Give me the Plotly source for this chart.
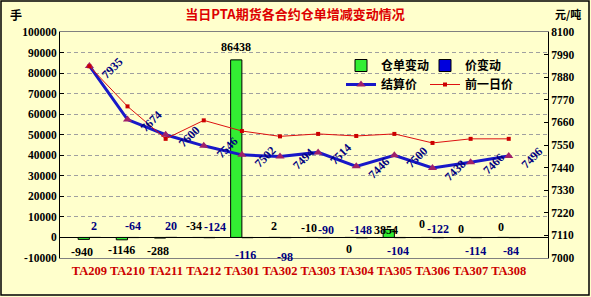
import plotly.graph_objects as go

# ---------------- data ----------------
contracts = ["TA209", "TA210", "TA211", "TA212", "TA301", "TA302",
             "TA303", "TA304", "TA305", "TA306", "TA307", "TA308"]
warrant_change = [-940, -1146, -288, -34, 86438, 2, -10, 0, 3854, 0, 0, 0]
price_change = [2, -64, 20, -124, -116, -98, -90, -148, -104, -122, -114, -84]
settle_price = [7935, 7674, 7600, 7546, 7502, 7494, 7514, 7446, 7500, 7438, 7466, 7496]
prev_price = [7933, 7738, 7580, 7670, 7618, 7592, 7604, 7594, 7604, 7560, 7580, 7580]

left_ticks = list(range(-10000, 100001, 10000))
right_ticks = list(range(7000, 8101, 110))

# label placement (pixels; dy positive = downward)
warrant_label_dx = [-7, -6, -8, -10, -6, -6, -9, -7, -8, -10, -10, -8]
warrant_label_dy = [14.5, 12.5, 13.5, -11, -12.6, -11.5, -9, 11.5, 0.5, -13, -8.5, -10]
price_label_dx = [5, 5, 5, 11, 4, 5, 8, 5, 4, 6, 5, 2]
price_label_dy = [-11.5, -11.5, -11.5, -10, 18, 19.5, -7.5, -7, 13.5, -8.5, 13.5, 13.5]

# ---------------- geometry / styles ----------------
W, H = 591, 297
ML, MR, MT, MB = 60, 43, 32, 39
PW, PH = W - ML - MR, H - MT - MB
BG = "#FFFFCC"
NUM_FONT = "Liberation Serif"
CJK_FONT = "Noto Sans CJK SC"


def px_to_paper(x, y):
    return (x - ML) / PW, (H - MB - y) / PH


fig = go.Figure()

fig.add_trace(go.Bar(
    x=contracts, y=warrant_change, name="仓单变动",
    marker=dict(color="#33EE33", line=dict(color="#000000", width=1)),
    yaxis="y", legend="legend"))
fig.add_trace(go.Bar(
    x=contracts, y=price_change, name="价变动",
    marker=dict(color="#0000DD", line=dict(color="#000000", width=1)),
    yaxis="y", legend="legend2"))
fig.add_trace(go.Scatter(
    x=contracts, y=settle_price, name="结算价", mode="lines+markers",
    line=dict(color="#1818C8", width=3),
    marker=dict(symbol="triangle-up", size=8, color="#A0206A"),
    yaxis="y2", legend="legend"))
fig.add_trace(go.Scatter(
    x=contracts, y=prev_price, name="前一日价", mode="lines+markers",
    line=dict(color="#DD1111", width=1),
    marker=dict(symbol="square", size=4, color="#CC0000"),
    yaxis="y2", legend="legend2"))

annotations = []
# warrant change labels (black)
for c, v, dx, dy in zip(contracts, warrant_change, warrant_label_dx, warrant_label_dy):
    annotations.append(dict(
        x=c, y=max(v, 0), xref="x", yref="y", text=str(v), showarrow=False,
        xanchor="center", yanchor="middle", xshift=dx, yshift=-dy,
        font=dict(family=NUM_FONT, size=12, color="#000000", weight="bold")))
# price change labels (navy)
for c, v, dx, dy in zip(contracts, price_change, price_label_dx, price_label_dy):
    annotations.append(dict(
        x=c, y=0, xref="x", yref="y", text=str(v), showarrow=False,
        xanchor="center", yanchor="middle", xshift=dx, yshift=-dy,
        font=dict(family=NUM_FONT, size=12, color="#000080", weight="bold")))
# settlement price labels (rotated)
for c, v in zip(contracts, settle_price):
    annotations.append(dict(
        x=c, y=v, xref="x", yref="y2", text=str(v), showarrow=False,
        xanchor="center", yanchor="middle", xshift=23, yshift=-2, textangle=-45,
        font=dict(family=NUM_FONT, size=12, color="#000080", weight="bold")))

# unit labels
ux, uy = px_to_paper(16, 14)
annotations.append(dict(x=ux, y=uy, xref="paper", yref="paper", text="手", showarrow=False,
                        xanchor="center", yanchor="middle",
                        font=dict(family=CJK_FONT, size=12, color="#000000", weight="bold")))
ux, uy = px_to_paper(568, 14)
annotations.append(dict(x=ux, y=uy, xref="paper", yref="paper", text="元/吨", showarrow=False,
                        xanchor="center", yanchor="middle",
                        font=dict(family=CJK_FONT, size=11, color="#000000", weight="bold")))

bx0, by0 = px_to_paper(1, 1)
bx1, by1 = px_to_paper(589, 295)

lx1, ly = px_to_paper(341, 51)
lx2, _ = px_to_paper(425, 51)
legend_font = dict(family=CJK_FONT, size=12, color="#000000", weight="bold")

fig.update_layout(
    width=W, height=H,
    margin=dict(l=ML, r=MR, t=MT, b=MB),
    paper_bgcolor=BG, plot_bgcolor=BG,
    barmode="group", bargap=0.41, bargroupgap=0,
    title=dict(text="当日PTA期货各合约仓单增减变动情况", x=295 / W, xanchor="center",
               y=1 - 14 / H, yanchor="middle", yref="container",
               font=dict(family=CJK_FONT, size=13, color="#DD0000", weight="bold")),
    xaxis=dict(type="category", showline=True, mirror=True, linecolor="#808080", linewidth=1,
               ticks="", ticklabelstandoff=1,
               tickfont=dict(family=NUM_FONT, size=12.5, color="#CC0000", weight="bold")),
    yaxis=dict(range=[-10000, 100000], tickvals=left_ticks, ticktext=[str(t) for t in left_ticks],
               showline=True, linecolor="#000000", linewidth=1,
               ticks="inside", ticklen=4, tickcolor="#000000",
               showgrid=True, gridcolor="#A0A0A0", griddash="4px,3px", gridwidth=1,
               zeroline=True, zerolinecolor="#000000", zerolinewidth=1,
               tickfont=dict(family=NUM_FONT, size=11.5, color="#000000", weight="bold")),
    yaxis2=dict(range=[7000, 8100], tickvals=right_ticks, ticktext=[str(t) for t in right_ticks],
                overlaying="y", side="right", showgrid=False, zeroline=False,
                showline=True, linecolor="#000000", linewidth=1,
                ticks="inside", ticklen=4, tickcolor="#000000",
                tickfont=dict(family=NUM_FONT, size=11.5, color="#000000", weight="bold")),
    legend=dict(x=lx1, y=ly, xanchor="left", yanchor="top", bgcolor="rgba(0,0,0,0)",
                orientation="v", font=legend_font, itemwidth=30, tracegroupgap=0),
    legend2=dict(x=lx2, y=ly, xanchor="left", yanchor="top", bgcolor="rgba(0,0,0,0)",
                 orientation="v", font=legend_font, itemwidth=30, tracegroupgap=0),
    annotations=annotations,
    shapes=[dict(type="rect", xref="paper", yref="paper", x0=bx0, y0=by0, x1=bx1, y1=by1,
                 line=dict(color="#000000", width=1.5), fillcolor="rgba(0,0,0,0)", layer="above")],
    showlegend=True,
)

fig.write_html("out.html")
